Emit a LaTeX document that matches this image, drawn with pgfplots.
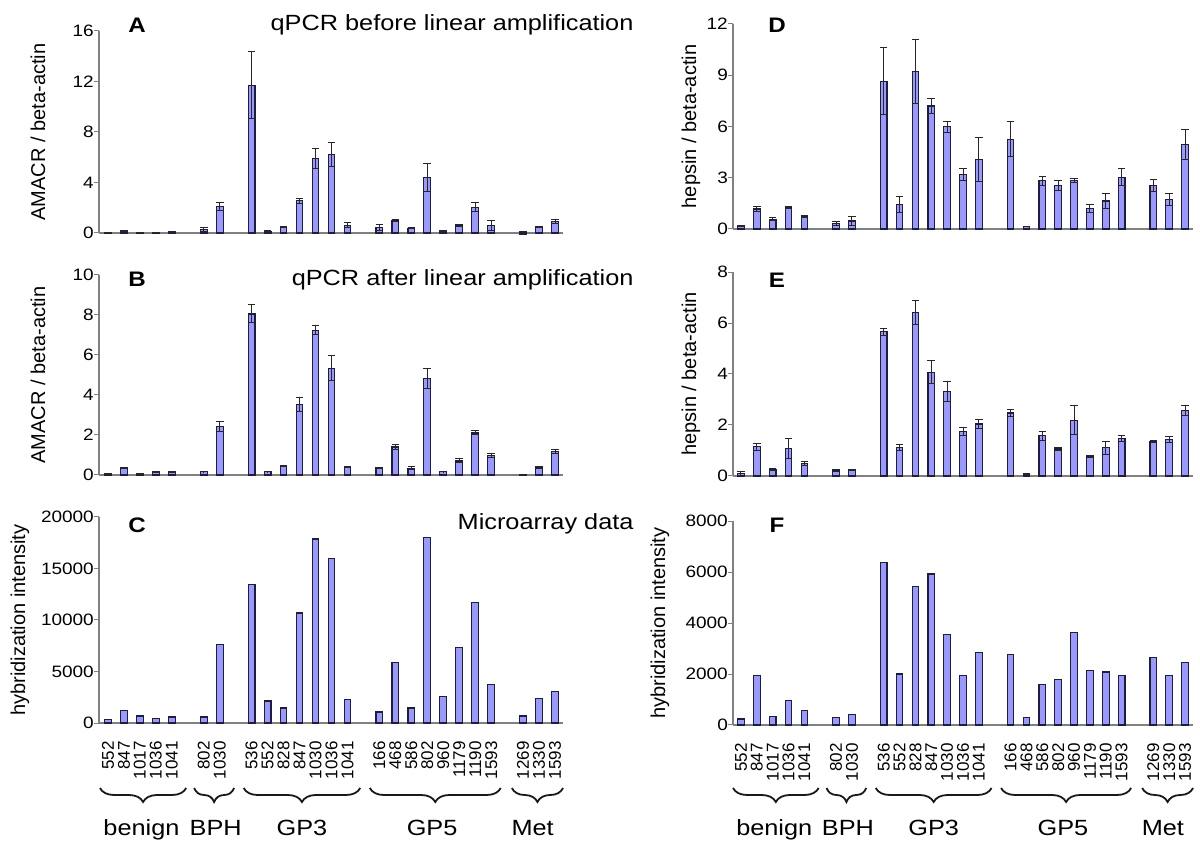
\documentclass[border=0pt]{standalone}
\usepackage{fontspec}
\setmainfont{Liberation Sans}[FakeStretch=1.15]
\newfontfamily\plainfont{Liberation Sans}
\usepackage{pgfplots}
\pgfplotsset{compat=1.18}
\usetikzlibrary{decorations.pathreplacing}
\definecolor{barfill}{RGB}{153,153,255}
\definecolor{baredge}{RGB}{30,30,60}
\definecolor{axgray}{RGB}{128,128,128}
\tikzset{
  brace/.style={decorate, decoration={brace, mirror, amplitude=14pt}, line width=1.8pt, black!90},
  grp/.style={anchor=base, font=\fontsize{22}{22}\selectfont},
}
\pgfplotsset{
  panel/.style={
    scale only axis, ymin=0, clip=false,
    axis x line*=bottom, axis y line*=left,
    axis line style={draw=axgray, line width=1.1pt},
    ytick style={draw=axgray, line width=1pt},
    tick align=outside, major tick length=5pt,
    xtick=\empty,
    yticklabel style={font=\fontsize{16.5}{16.5}\selectfont, inner sep=0pt},
    /pgf/number format/1000 sep={},
    /pgf/number format/assume math mode=true,
    scaled y ticks=false,
    ylabel style={font=\plainfont\fontsize{20}{20}\selectfont},
  },
  left panel/.style={panel, width=464pt, xmin=-0.56, xmax=28.5},
  right panel/.style={panel, width=460pt, xmin=-0.5, xmax=28.5},
  bars/.style={ybar, bar width=0.42, fill=barfill, draw=baredge, line width=1.1pt},
  errbars/.style={error bars/.cd, y dir=both, y explicit,
    error bar style={line width=1pt, black!85},
    error mark options={rotate=90, line width=1pt, mark size=3.8pt, black!85}},
  bottomticks/.style={
    xtick={0,1,2,3,4,6,7,9,10,11,12,13,14,15,17,18,19,20,21,22,23,24,26,27,28},
    xticklabels={552,847,1017,1036,1041,802,1030,536,552,828,847,1030,1036,1041,166,468,586,802,960,1179,1190,1593,1269,1330,1593},
    x tick style={draw=none},
    xticklabel style={rotate=90, anchor=east, inner sep=0pt, font=\plainfont\fontsize{17}{17}\selectfont},
    xticklabel shift=13pt,
  },
}
\begin{document}
\begin{tikzpicture}
\path[use as bounding box] (0pt,0pt) rectangle (1200pt,849pt);

% A
\begin{axis}[left panel, at={(99pt,616pt)}, anchor=south west, height=202pt, ymax=16, ytick={0,4,8,12,16},
  ylabel={AMACR / beta-actin}, ylabel style={at={([xshift=-61pt]rel axis cs:0,0.5)}, anchor=center}]
\addplot[bars, errbars] coordinates {
(0,0.05) +- (0,0.02) (1,0.18) +- (0,0.03) (2,0.05) +- (0,0.02) (3,0.05) +- (0,0.02) (4,0.1) +- (0,0.02)
(6,0.25) +- (0,0.15) (7,2.1) +- (0,0.32)
(9,11.7) +- (0,2.65) (10,0.15) +- (0,0.03) (11,0.45) +- (0,0.05) (12,2.55) +- (0,0.18) (13,5.93) +- (0,0.8) (14,6.25) +- (0,0.95) (15,0.6) +- (0,0.2)
(17,0.45) +- (0,0.25) (18,1.0) +- (0,0.07) (19,0.37) +- (0,0.05) (20,4.4) +- (0,1.1) (21,0.15) +- (0,0.03) (22,0.6) +- (0,0.05) (23,2.05) +- (0,0.38) (24,0.6) +- (0,0.38)
(26,0.02) +- (0,0.1) (27,0.45) +- (0,0.05) (28,0.92) +- (0,0.15)
};
\end{axis}

% B
\begin{axis}[left panel, at={(99pt,374pt)}, anchor=south west, height=200pt, ymax=10, ytick={0,2,4,6,8,10},
  ylabel={AMACR / beta-actin}, ylabel style={at={([xshift=-61pt]rel axis cs:0,0.5)}, anchor=center}]
\addplot[bars, errbars] coordinates {
(0,0.05) +- (0,0.02) (1,0.35) +- (0,0.02) (2,0.05) +- (0,0.01) (3,0.15) +- (0,0.02) (4,0.15) +- (0,0.02)
(6,0.17) +- (0,0.02) (7,2.42) +- (0,0.26)
(9,8.05) +- (0,0.45) (10,0.17) +- (0,0.02) (11,0.45) +- (0,0.02) (12,3.52) +- (0,0.35) (13,7.23) +- (0,0.22) (14,5.33) +- (0,0.62) (15,0.4) +- (0,0.04)
(17,0.35) +- (0,0.02) (18,1.4) +- (0,0.14) (19,0.33) +- (0,0.07) (20,4.82) +- (0,0.5) (21,0.17) +- (0,0.02) (22,0.7) +- (0,0.1) (23,2.1) +- (0,0.1) (24,0.97) +- (0,0.12)
(26,0.02) +- (0,0.01) (27,0.38) +- (0,0.06) (28,1.17) +- (0,0.1)
};
\end{axis}

% C
\begin{axis}[left panel, bottomticks, at={(99pt,126pt)}, anchor=south west, height=206pt, ymax=20000, ytick={0,5000,10000,15000,20000},
  ylabel={hybridization intensity}, ylabel style={at={([xshift=-79pt]rel axis cs:0,0.5)}, anchor=center}]
\addplot[bars] coordinates {
(0,320) (1,1170) (2,680) (3,420) (4,585)
(6,585) (7,7600)
(9,13470) (10,2140) (11,1460) (12,10680) (13,17860) (14,15970) (15,2240)
(17,1070) (18,5880) (19,1460) (20,17990) (21,2560) (22,7300) (23,11720) (24,3700)
(26,680) (27,2370) (28,3050)
};
\draw[brace] ([yshift=-65pt]axis cs:-0.5,0) -- ([yshift=-65pt]axis cs:4.9,0);
\draw[brace] ([yshift=-65pt]axis cs:5.4,0) -- ([yshift=-65pt]axis cs:7.9,0);
\draw[brace] ([yshift=-65pt]axis cs:8.5,0) -- ([yshift=-65pt]axis cs:15.8,0);
\draw[brace] ([yshift=-65pt]axis cs:16.4,0) -- ([yshift=-65pt]axis cs:24.6,0);
\draw[brace] ([yshift=-65pt]axis cs:25.3,0) -- ([yshift=-65pt]axis cs:28.5,0);
\node[grp] at ([yshift=-112pt]axis cs:2.1,0) {benign};
\node[grp] at ([yshift=-112pt]axis cs:6.75,0) {BPH};
\node[grp] at ([yshift=-112pt]axis cs:12.15,0) {GP3};
\node[grp] at ([yshift=-112pt]axis cs:20.3,0) {GP5};
\node[grp] at ([yshift=-112pt]axis cs:26.6,0) {Met};
\end{axis}

% D
\begin{axis}[right panel, at={(733pt,620pt)}, anchor=south west, height=205pt, ymax=12, ytick={0,3,6,9,12},
  ylabel={hepsin / beta-actin}, ylabel style={at={([xshift=-42pt]rel axis cs:0,0.5)}, anchor=center}]
\addplot[bars, errbars] coordinates {
(0,0.18) +- (0,0.03) (1,1.17) +- (0,0.14) (2,0.58) +- (0,0.07) (3,1.27) +- (0,0.06) (4,0.74) +- (0,0.06)
(6,0.33) +- (0,0.13) (7,0.47) +- (0,0.25)
(9,8.65) +- (0,1.95) (10,1.44) +- (0,0.46) (11,9.2) +- (0,1.87) (12,7.2) +- (0,0.43) (13,5.98) +- (0,0.31) (14,3.21) +- (0,0.35) (15,4.07) +- (0,1.3)
(17,5.26) +- (0,1.03) (18,0.15) +- (0,0.02) (19,2.82) +- (0,0.26) (20,2.55) +- (0,0.27) (21,2.86) +- (0,0.12) (22,1.19) +- (0,0.25) (23,1.64) +- (0,0.46) (24,3.04) +- (0,0.51)
(26,2.55) +- (0,0.35) (27,1.75) +- (0,0.35) (28,4.95) +- (0,0.88)
};
\end{axis}

% E
\begin{axis}[right panel, at={(733pt,373pt)}, anchor=south west, height=204pt, ymax=8, ytick={0,2,4,6,8},
  ylabel={hepsin / beta-actin}, ylabel style={at={([xshift=-42pt]rel axis cs:0,0.5)}, anchor=center}]
\addplot[bars, errbars] coordinates {
(0,0.1) +- (0,0.08) (1,1.14) +- (0,0.13) (2,0.27) +- (0,0.04) (3,1.07) +- (0,0.39) (4,0.5) +- (0,0.07)
(6,0.2) +- (0,0.04) (7,0.22) +- (0,0.02)
(9,5.65) +- (0,0.13) (10,1.11) +- (0,0.11) (11,6.42) +- (0,0.46) (12,4.07) +- (0,0.44) (13,3.32) +- (0,0.38) (14,1.74) +- (0,0.17) (15,2.04) +- (0,0.16)
(17,2.47) +- (0,0.14) (18,0.08) +- (0,0.02) (19,1.58) +- (0,0.17) (20,1.06) +- (0,0.06) (21,2.18) +- (0,0.57) (22,0.75) +- (0,0.04) (23,1.11) +- (0,0.25) (24,1.48) +- (0,0.11)
(26,1.36) +- (0,0.03) (27,1.42) +- (0,0.12) (28,2.56) +- (0,0.19)
};
\end{axis}

% F
\begin{axis}[right panel, bottomticks, at={(733pt,124pt)}, anchor=south west, height=204pt, ymax=8000, ytick={0,2000,4000,6000,8000},
  ylabel={hybridization intensity}, ylabel style={at={([xshift=-73pt]rel axis cs:0,0.5)}, anchor=center}]
\addplot[bars] coordinates {
(0,234) (1,1950) (2,350) (3,960) (4,560)
(6,286) (7,400)
(9,6360) (10,2000) (11,5440) (12,5920) (13,3540) (14,1925) (15,2860)
(17,2780) (18,286) (19,1590) (20,1770) (21,3630) (22,2130) (23,2080) (24,1925)
(26,2630) (27,1925) (28,2445)
};
\draw[brace] ([yshift=-63pt]axis cs:-0.5,0) -- ([yshift=-63pt]axis cs:4.9,0);
\draw[brace] ([yshift=-63pt]axis cs:5.4,0) -- ([yshift=-63pt]axis cs:7.9,0);
\draw[brace] ([yshift=-63pt]axis cs:8.5,0) -- ([yshift=-63pt]axis cs:15.8,0);
\draw[brace] ([yshift=-63pt]axis cs:16.4,0) -- ([yshift=-63pt]axis cs:24.6,0);
\draw[brace] ([yshift=-63pt]axis cs:25.3,0) -- ([yshift=-63pt]axis cs:28.5,0);
\node[grp] at ([yshift=-110pt]axis cs:2.1,0) {benign};
\node[grp] at ([yshift=-110pt]axis cs:6.75,0) {BPH};
\node[grp] at ([yshift=-110pt]axis cs:12.15,0) {GP3};
\node[grp] at ([yshift=-110pt]axis cs:20.3,0) {GP5};
\node[grp] at ([yshift=-110pt]axis cs:26.6,0) {Met};
\end{axis}

% titles and panel letters
\node[anchor=base east, font=\fontsize{22}{22}\selectfont] at (637pt,818pt) {qPCR before linear amplification};
\node[anchor=base east, font=\fontsize{22}{22}\selectfont] at (637pt,563pt) {qPCR after linear amplification};
\node[anchor=base east, font=\fontsize{22}{22}\selectfont] at (637pt,319pt) {Microarray data};
\node[anchor=base, font=\bfseries\fontsize{21}{21}\selectfont] at (137pt,816pt) {A};
\node[anchor=base, font=\bfseries\fontsize{21}{21}\selectfont] at (137pt,562pt) {B};
\node[anchor=base, font=\bfseries\fontsize{21}{21}\selectfont] at (137pt,316pt) {C};
\node[anchor=base, font=\bfseries\fontsize{21}{21}\selectfont] at (777pt,816pt) {D};
\node[anchor=base, font=\bfseries\fontsize{21}{21}\selectfont] at (777pt,561pt) {E};
\node[anchor=base, font=\bfseries\fontsize{21}{21}\selectfont] at (777pt,316pt) {F};
\end{tikzpicture}
\end{document}
